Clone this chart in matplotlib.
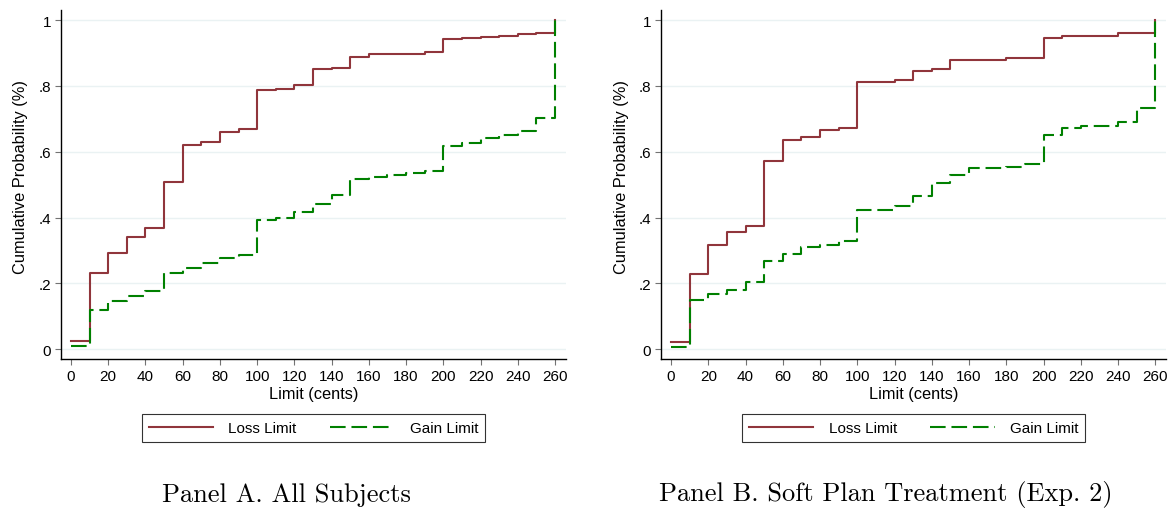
import numpy as np
import matplotlib

matplotlib.use("Agg")
import matplotlib.pyplot as plt

plt.rcParams["font.family"] = ["Liberation Sans", "DejaVu Sans"]

# limits (cents) and cumulative shares
limits = [0, 10, 20, 30, 40, 50, 60, 70, 80, 90, 100, 110, 120, 130, 140,
          150, 160, 170, 180, 190, 200, 210, 220, 230, 240, 250, 260]

a_loss = [0.025, 0.233, 0.291, 0.341, 0.369, 0.508, 0.621, 0.631, 0.659,
          0.670, 0.787, 0.791, 0.803, 0.851, 0.855, 0.888, 0.896, 0.896,
          0.898, 0.902, 0.942, 0.946, 0.948, 0.951, 0.957, 0.960, 1.0]
a_gain = [0.011, 0.120, 0.147, 0.161, 0.177, 0.233, 0.247, 0.262, 0.278,
          0.287, 0.392, 0.399, 0.418, 0.442, 0.470, 0.517, 0.524, 0.530,
          0.536, 0.542, 0.618, 0.628, 0.642, 0.650, 0.664, 0.703, 1.0]

b_loss = [0.022, 0.228, 0.316, 0.357, 0.375, 0.571, 0.637, 0.644, 0.665,
          0.673, 0.812, 0.812, 0.819, 0.846, 0.851, 0.878, 0.878, 0.878,
          0.886, 0.886, 0.945, 0.952, 0.952, 0.952, 0.960, 0.960, 1.0]
b_gain = [0.007, 0.149, 0.167, 0.181, 0.203, 0.268, 0.289, 0.309, 0.316,
          0.330, 0.423, 0.423, 0.436, 0.464, 0.505, 0.530, 0.550, 0.550,
          0.553, 0.564, 0.651, 0.673, 0.678, 0.678, 0.691, 0.733, 1.0]

xticks = list(range(0, 261, 20))
yticks = [0, 0.2, 0.4, 0.6, 0.8, 1.0]
ytick_labels = ["0", ".2", ".4", ".6", ".8", "1"]

panels = [
    (0.052, a_loss, a_gain, 0.245, "Panel A. All Subjects"),
    (0.565, b_loss, b_gain, 0.757, "Panel B. Soft Plan Treatment (Exp. 2)"),
]

RED = "#90353B"
GREEN = "#008000"
GRID = "#EAF2F3"

fig = plt.figure(figsize=(11.7, 5.1), dpi=100)

for left, loss, gain, tx, title in panels:
    ax = fig.add_axes([left, 0.294, 0.432, 0.684])
    ax.step(limits, loss, where="post", color=RED, lw=1.5, label="Loss Limit",
            zorder=3)
    ax.step(limits, gain, where="post", color=GREEN, lw=1.5,
            linestyle=(0, (7.5, 2.8)), label="Gain Limit", zorder=4)

    ax.set_xlim(-5.4, 266)
    ax.set_ylim(-0.03, 1.03)
    ax.set_xticks(xticks)
    ax.set_yticks(yticks)
    ax.set_yticklabels(ytick_labels)
    for y in yticks:
        ax.axhline(y, color=GRID, lw=1.0, zorder=1)

    for s in ("top", "right"):
        ax.spines[s].set_visible(False)
    for s in ("left", "bottom"):
        ax.spines[s].set_linewidth(1.0)
        ax.spines[s].set_color("black")
    ax.tick_params(axis="both", direction="out", length=4, width=0.8,
                   labelsize=11, pad=3)
    ax.tick_params(axis="x", colors="0.45", labelcolor="black")
    ax.tick_params(axis="y", colors="0.45", labelcolor="black")

    ax.set_xlabel("Limit (cents)", fontsize=11.8, labelpad=2)
    ax.set_ylabel("Cumulative Probability (%)", fontsize=11.8)
    ax.yaxis.set_label_coords(-0.064, 0.524)

    leg = ax.legend(loc="center", bbox_to_anchor=(0.5, -0.198), ncol=2,
                    fontsize=11, handlelength=4.2, columnspacing=2.2,
                    handletextpad=1.0, borderpad=0.45, fancybox=False,
                    frameon=True, borderaxespad=0)
    leg.get_frame().set_edgecolor("black")
    leg.get_frame().set_linewidth(0.8)

    fig.text(tx, 0.03, title, ha="center", va="center", fontsize=19,
             family="cmr10")

fig.savefig("out.png", dpi=100)
